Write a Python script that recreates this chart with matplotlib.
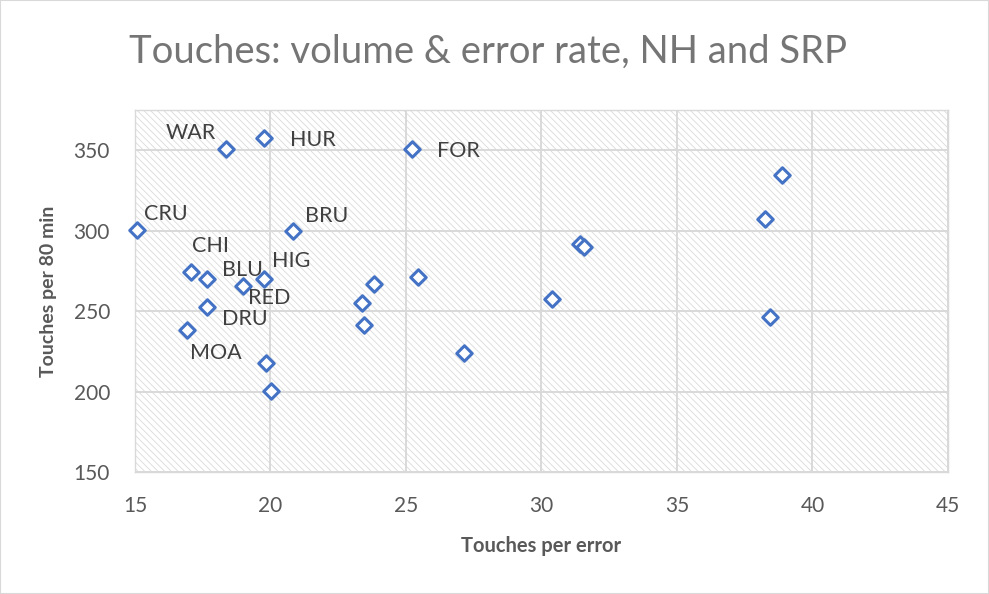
import matplotlib.pyplot as plt
from matplotlib.patches import Rectangle

# ── data ──────────────────────────────────────────────────────────────────────
teams = ["WAR", "HUR", "FOR", "CRU", "BRU", "CHI", "BLU", "RED", "HIG", "DRU", "MOA",
         "", "", "", "", "", "", "", "", "", "", "", "", ""]
touches_per_error = [18.36, 19.77, 25.24, 15.07, 20.84, 17.07, 17.66, 18.99, 19.77, 17.66, 16.92,
                     19.84, 20.03, 23.36, 23.44, 23.81, 25.45, 27.14, 30.40, 31.41, 31.57,
                     38.24, 38.87, 38.45]
touches_per_80 = [350.6, 357.5, 350.6, 300.3, 299.7, 274.2, 269.9, 265.5, 269.9, 252.5, 238.2,
                  217.7, 200.3, 254.8, 241.3, 266.6, 271.3, 224.1, 257.5, 291.6, 289.6,
                  307.3, 334.3, 246.5]

# label offsets in pixels (dx to text anchor, dy to text centre), anchor side
label_pos = {
    "WAR": (-10, 16, "right"), "HUR": (26, -2, "left"), "FOR": (25, -2, "left"),
    "CRU": (7, 16, "left"), "BRU": (12, 15, "left"), "CHI": (1, 26, "left"),
    "BLU": (15, 9, "left"), "HIG": (8, 18, "left"), "RED": (5, -12, "left"),
    "DRU": (15, -12, "left"), "MOA": (3, -23, "left"),
}

plt.rcParams["font.family"] = ["Lato", "DejaVu Sans"]
plt.rcParams["hatch.color"] = "#dadada"
plt.rcParams["hatch.linewidth"] = 0.6

fig = plt.figure(figsize=(9.89, 5.94), dpi=100)
fig.patches.append(Rectangle((0, 0), 1, 1, transform=fig.transFigure, fill=False,
                             edgecolor="#d9d9d9", linewidth=1.5))
ax = fig.add_axes([0.1365, 0.2054, 0.822, 0.6094])

# hatched plot area
ax.add_patch(Rectangle((0, 0), 1, 1, transform=ax.transAxes, facecolor="white",
                       hatch="\\\\\\\\\\", edgecolor="#dadada", linewidth=0, zorder=0))
ax.set_xlim(15, 45)
ax.set_ylim(150, 375)
ax.set_xticks(range(15, 46, 5))
ax.set_yticks(range(150, 351, 50))
ax.grid(True, color="#d9d9d9", linewidth=1.4, zorder=1)
for s in ax.spines.values():
    s.set_color("#d9d9d9")
    s.set_linewidth(1.0)
ax.tick_params(axis="x", length=0, labelsize=15, labelcolor="#595959", pad=17)
ax.tick_params(axis="y", length=0, labelsize=15, labelcolor="#595959", pad=18)

ax.scatter(touches_per_error, touches_per_80, marker="D", s=62, facecolor="white",
           edgecolor="#4472c4", linewidth=2.2, zorder=3, clip_on=False)

for name, x, y in zip(teams, touches_per_error, touches_per_80):
    if not name:
        continue
    dx, dy, ha = label_pos[name]
    ax.annotate(name, (x, y), xytext=(dx, dy), textcoords="offset pixels",
                ha=ha, va="center", fontsize=15.5, color="#404040", zorder=4)

ax.set_xlabel("Touches per error", fontsize=14.5, fontweight="bold", color="#595959", labelpad=15)
ax.set_ylabel("Touches per 80 min", fontsize=14, fontweight="bold", color="#595959", labelpad=12)
fig.text(0.4935, 0.913, "Touches: volume & error rate, NH and SRP", ha="center", va="center",
         fontsize=27.5, color="#757575")

plt.savefig("out.png", dpi=100)
